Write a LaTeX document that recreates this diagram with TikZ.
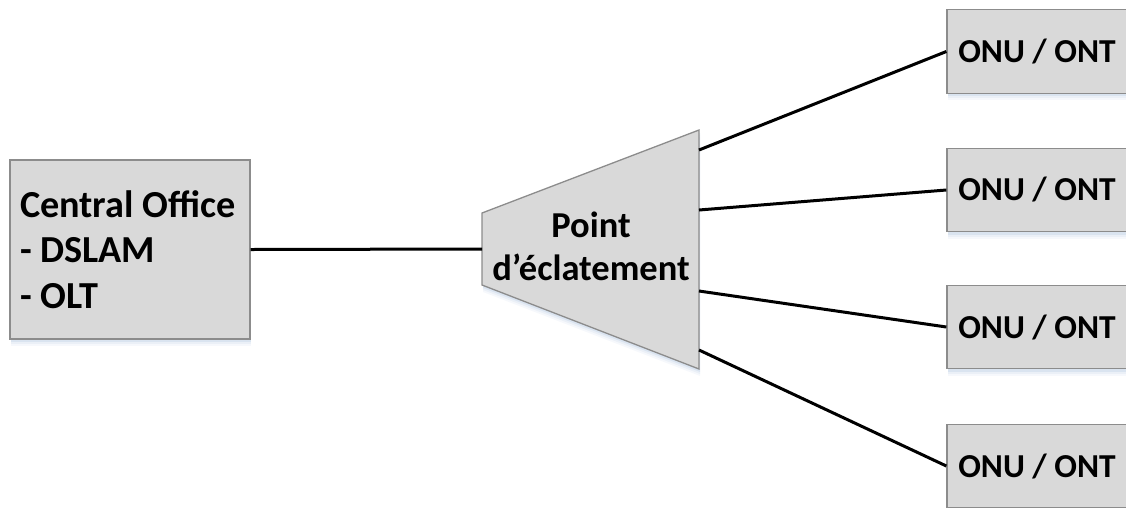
\documentclass[tikz,border=0pt]{standalone}
\usepackage{fontspec}
\setmainfont{Carlito}
\usetikzlibrary{shadows}
\definecolor{boxgray}{HTML}{D9D9D9}
\definecolor{edgegray}{HTML}{8C8C8C}
\definecolor{shadowblue}{HTML}{A9BFDD}
\tikzset{
  softshadow/.style={
    general shadow={shadow xshift=1pt,shadow yshift=-7pt,fill=shadowblue,opacity=.1},
    general shadow={shadow xshift=1pt,shadow yshift=-5pt,fill=shadowblue,opacity=.15},
    general shadow={shadow xshift=1pt,shadow yshift=-3pt,fill=shadowblue,opacity=.25}},
  boxstyle/.style={draw=edgegray,line width=1.3pt,fill=boxgray,softshadow},
  onubox/.style={boxstyle,minimum width=180pt,minimum height=83.5pt,inner sep=0pt,
    font=\fontsize{33.5}{38}\selectfont\bfseries,text=black},
  wire/.style={draw=black,line width=3pt}
}
\begin{document}
\begin{tikzpicture}[x=1pt,y=-1pt]
\useasboundingbox (0,0) rectangle (1126,507);
\clip (0,0) rectangle (1126,507);
\node[boxstyle,minimum width=240pt,minimum height=179pt,inner sep=0pt,text width=220pt,align=flush left,
  font=\fontsize{38.2}{45.5}\selectfont\bfseries] (co) at (130,249.5)
  {Central Office\\- DSLAM\\- OLT};
\path[boxstyle] (482,213) -- (699,130) -- (699,369) -- (482,285) -- cycle;
\coordinate (sin) at (482,249);
\coordinate (s1) at (699,150);
\coordinate (s2) at (699,210);
\coordinate (s3) at (699,291);
\coordinate (s4) at (699,350);
\node[align=flush center,inner sep=0pt,font=\fontsize{36.5}{43}\selectfont\bfseries] (split) at (591,246) {Point\\d’éclatement};
\node[onubox] (o1) at (1037,51.5) {ONU / ONT};
\node[onubox] (o2) at (1037,190) {ONU / ONT};
\node[onubox] (o3) at (1037,327) {ONU / ONT};
\node[onubox] (o4) at (1037,466) {ONU / ONT};
\draw[wire] (co.east) -- (sin);
\draw[wire] (s1) -- (o1.west);
\draw[wire] (s2) -- (o2.west);
\draw[wire] (s3) -- (o3.west);
\draw[wire] (s4) -- (o4.west);
\end{tikzpicture}
\end{document}
